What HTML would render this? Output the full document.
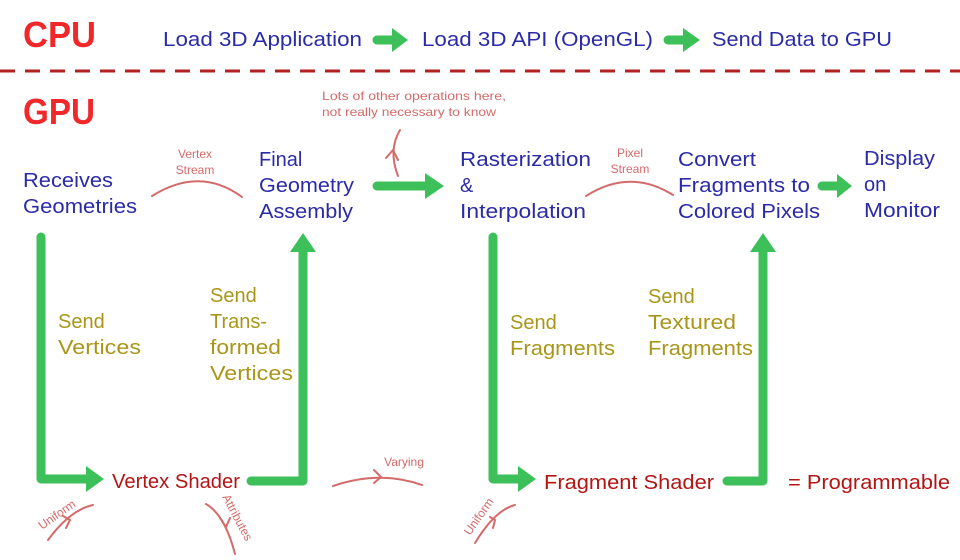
<!DOCTYPE html>
<html><head><meta charset="utf-8"><style>
html,body{margin:0;padding:0;background:#fff;}
svg{display:block}
text{font-family:"Liberation Sans",sans-serif;}
.b{fill:#2b2ba8;font-size:20px}
.o{fill:#a8961a;font-size:20px}
.r{fill:#b31515;font-size:20px}
.n{fill:#d46a6a;font-size:12px}
.g{stroke:#3dbf5a;stroke-width:9;fill:none;stroke-linecap:round;stroke-linejoin:round}
.gh{fill:#3dbf5a}
.c{stroke:#d46a6a;stroke-width:2;fill:none;stroke-linecap:round}
</style></head><body>
<svg width="960" height="560" viewBox="0 0 960 560" xmlns="http://www.w3.org/2000/svg">
<text x="23" y="47" font-size="36" font-weight="bold" fill="#f0282a" textLength="73" lengthAdjust="spacingAndGlyphs">CPU</text>
<text x="163" y="46" class="b" textLength="199" lengthAdjust="spacingAndGlyphs">Load 3D Application</text>
<path class="g" d="M377 40 H395"/><path class="gh" d="M392 28 L408 40 L392 52 Z"/>
<text x="422" y="46" class="b" textLength="231" lengthAdjust="spacingAndGlyphs">Load 3D API (OpenGL)</text>
<path class="g" d="M668 40 H686"/><path class="gh" d="M683 28 L700 40 L683 52 Z"/>
<text x="712" y="46" class="b" textLength="180" lengthAdjust="spacingAndGlyphs">Send Data to GPU</text>
<line x1="0" y1="71" x2="960" y2="71" stroke="#b22222" stroke-width="3" stroke-dasharray="15 10"/>
<text x="23" y="124" font-size="36" font-weight="bold" fill="#f0282a" textLength="72" lengthAdjust="spacingAndGlyphs">GPU</text>
<text x="322" y="100" class="n" textLength="184" lengthAdjust="spacingAndGlyphs">Lots of other operations here,</text>
<text x="322" y="116" class="n" textLength="174" lengthAdjust="spacingAndGlyphs">not really necessary to know</text>
<path class="c" d="M400 130 Q388 150 398 176"/><path class="c" d="M386 158 L393 150 L398 160"/>
<text x="23" y="187" class="b" textLength="90" lengthAdjust="spacingAndGlyphs">Receives</text>
<text x="23" y="213" class="b" textLength="114" lengthAdjust="spacingAndGlyphs">Geometries</text>
<text x="195" y="158" class="n" text-anchor="middle">Vertex</text>
<text x="195" y="174" class="n" text-anchor="middle">Stream</text>
<path class="c" d="M152 196 Q200 166 242 197"/>
<text x="259" y="166" class="b">Final</text>
<text x="259" y="192" class="b" textLength="95" lengthAdjust="spacingAndGlyphs">Geometry</text>
<text x="259" y="218" class="b" textLength="94" lengthAdjust="spacingAndGlyphs">Assembly</text>
<path class="g" d="M377 186 H428"/><path class="gh" d="M425 173 L444 186 L425 199 Z"/>
<text x="460" y="166" class="b" textLength="131" lengthAdjust="spacingAndGlyphs">Rasterization</text>
<text x="460" y="192" class="b">&amp;</text>
<text x="460" y="218" class="b" textLength="126" lengthAdjust="spacingAndGlyphs">Interpolation</text>
<text x="630" y="157" class="n" text-anchor="middle">Pixel</text>
<text x="630" y="173" class="n" text-anchor="middle">Stream</text>
<path class="c" d="M586 196 Q630 168 673 195"/>
<text x="678" y="166" class="b" textLength="78" lengthAdjust="spacingAndGlyphs">Convert</text>
<text x="678" y="192" class="b" textLength="132" lengthAdjust="spacingAndGlyphs">Fragments to</text>
<text x="678" y="218" class="b" textLength="142" lengthAdjust="spacingAndGlyphs">Colored Pixels</text>
<path class="g" d="M822 186 H840"/><path class="gh" d="M837 174 L852 186 L837 198 Z"/>
<text x="864" y="165" class="b" textLength="71" lengthAdjust="spacingAndGlyphs">Display</text>
<text x="864" y="191" class="b">on</text>
<text x="864" y="217" class="b" textLength="76" lengthAdjust="spacingAndGlyphs">Monitor</text>
<path class="g" d="M41 237 V479 H88"/><path class="gh" d="M86 466 L104 479 L86 492 Z"/>
<text x="58" y="328" class="o">Send</text>
<text x="58" y="354" class="o" textLength="83" lengthAdjust="spacingAndGlyphs">Vertices</text>
<text x="112" y="488" class="r" textLength="128" lengthAdjust="spacingAndGlyphs">Vertex Shader</text>
<path class="g" d="M251 481 H303 V250"/><path class="gh" d="M290 252 L303 233 L316 252 Z"/>
<text x="210" y="302" class="o">Send</text>
<text x="210" y="328" class="o">Trans-</text>
<text x="210" y="354" class="o" textLength="71" lengthAdjust="spacingAndGlyphs">formed</text>
<text x="210" y="380" class="o" textLength="83" lengthAdjust="spacingAndGlyphs">Vertices</text>
<text x="42" y="530" class="n" transform="rotate(-35 42 530)">Uniform</text>
<path class="c" d="M48 540 Q70 510 93 505"/><path class="c" d="M63 516 L70 520 L66 528"/>
<text x="222" y="497" class="n" transform="rotate(62 222 497)">Attributes</text>
<path class="c" d="M206 504 Q225 515 235 554"/><path class="c" d="M220 518 L226 527 L230 518"/>
<text x="404" y="466" class="n" text-anchor="middle">Varying</text>
<path class="c" d="M333 486 Q380 470 422 485"/><path class="c" d="M374 470 L381 477 L374 483"/>
<path class="g" d="M493 237 V479 H520"/><path class="gh" d="M518 466 L536 479 L518 492 Z"/>
<text x="510" y="329" class="o">Send</text>
<text x="510" y="355" class="o" textLength="105" lengthAdjust="spacingAndGlyphs">Fragments</text>
<text x="544" y="489" class="r" textLength="170" lengthAdjust="spacingAndGlyphs">Fragment Shader</text>
<path class="g" d="M727 481 H763 V250"/><path class="gh" d="M750 252 L763 233 L776 252 Z"/>
<text x="648" y="303" class="o">Send</text>
<text x="648" y="329" class="o" textLength="88" lengthAdjust="spacingAndGlyphs">Textured</text>
<text x="648" y="355" class="o" textLength="105" lengthAdjust="spacingAndGlyphs">Fragments</text>
<text x="470" y="536" class="n" transform="rotate(-55 470 536)">Uniform</text>
<path class="c" d="M475 543 Q495 510 515 505"/><path class="c" d="M490 517 L495 520 L493 528"/>
<text x="788" y="489" class="r" fill="#d42020" textLength="162" lengthAdjust="spacingAndGlyphs">= Programmable</text>
</svg>
</body></html>
